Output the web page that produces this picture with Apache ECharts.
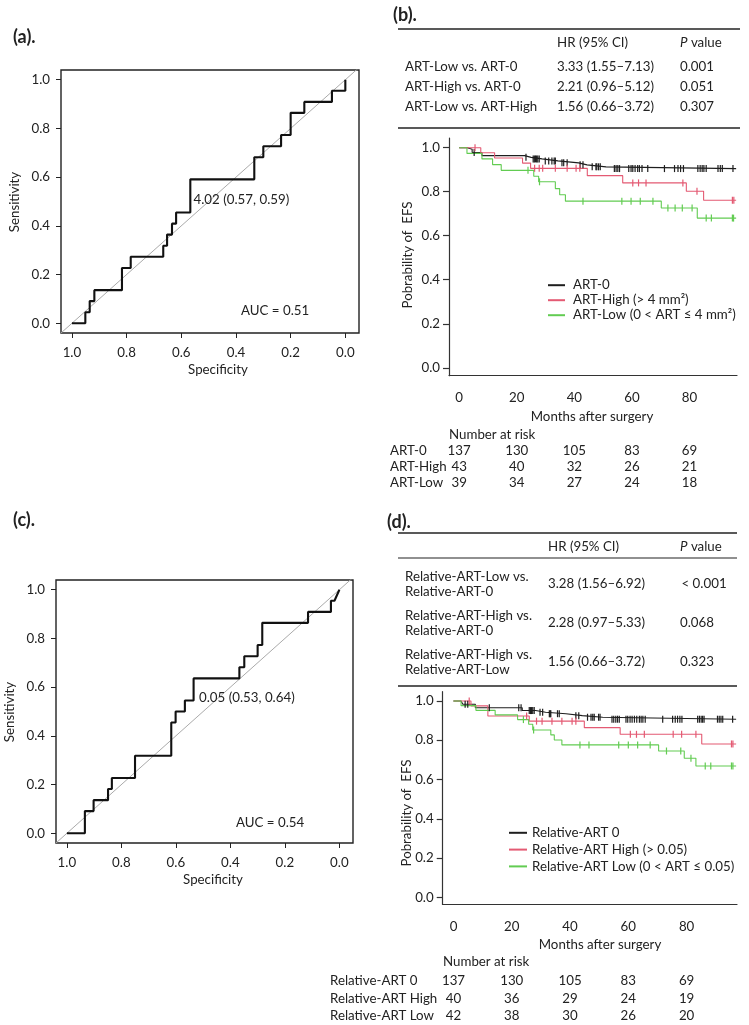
<!DOCTYPE html>
<html><head><meta charset="utf-8">
<script src="https://cdn.jsdelivr.net/npm/echarts@6/dist/echarts.min.js"></script>
<style>html,body{margin:0;padding:0;background:#fff}#c{width:749px;height:1025px}</style>
</head><body><div id="c"></div>
<script>
// ---------- ROC data (specificity / sensitivity vertices) ----------
const rocA_spec = [1.0,0.951,0.951,0.935,0.935,0.918,0.918,0.817,0.817,0.785,0.785,0.666,0.666,0.652,0.652,0.634,0.634,0.619,0.619,0.567,0.567,0.333,0.333,0.300,0.300,0.235,0.235,0.200,0.200,0.150,0.150,0.049,0.049,0.0,0.0];
const rocA_sens = [0,0,0.045,0.045,0.091,0.091,0.136,0.136,0.227,0.227,0.273,0.273,0.318,0.318,0.364,0.364,0.409,0.409,0.455,0.455,0.591,0.591,0.682,0.682,0.727,0.727,0.773,0.773,0.864,0.864,0.909,0.909,0.955,0.955,1.0];
const rocC_spec = [1.0,0.934,0.934,0.902,0.902,0.849,0.849,0.835,0.835,0.750,0.750,0.617,0.617,0.601,0.601,0.567,0.567,0.535,0.535,0.367,0.367,0.349,0.349,0.300,0.300,0.283,0.283,0.115,0.115,0.031,0.031,0.018,0.0];
const rocC_sens = [0,0,0.091,0.091,0.136,0.136,0.182,0.182,0.227,0.227,0.318,0.318,0.455,0.455,0.5,0.5,0.545,0.545,0.636,0.636,0.682,0.682,0.727,0.727,0.773,0.773,0.864,0.864,0.909,0.909,0.955,0.955,1.0];
const rocCutThr = ['4.02', '0.05'];
const rocCutSpec = [0.57, 0.53];
const rocCutSens = [0.59, 0.64];
const rocAUC = ['0.51', '0.54'];
const rocTicks = [0, 0.2, 0.4, 0.6, 0.8, 1.0];

// ---------- KM data panel (b) ----------
const kmB0_t = [0,2.8,4.5,7.9,22.7,25.0,28.8,34.3,41.5,44.4,51.0,96.2];
const kmB0_s = [1.0,0.993,0.978,0.964,0.956,0.949,0.940,0.931,0.922,0.913,0.905,0.905];
const kmB0_c = [5.2,23.2,25.7,26.1,26.5,26.9,27.3,27.8,29.9,31.1,32.2,33.0,33.4,35.7,36.3,37.5,42.0,43.0,46.2,47.5,47.8,48.4,49.0,53.9,54.5,55.1,55.7,58.9,59.7,60.3,61.1,62.0,62.6,63.5,65.5,71.3,74.8,76.0,76.9,77.9,82.9,83.7,84.4,85.0,85.8,89.9,90.7,91.4,95.1];
const kmB1_t = [0,7.5,12.3,22.0,24.8,44.5,56.8,78.9,84.9,96.2];
const kmB1_s = [1.0,0.977,0.953,0.930,0.906,0.873,0.840,0.802,0.761,0.761];
const kmB1_c = [5.5,26.2,27.8,29.0,33.4,37.5,40.6,41.9,60.3,62.3,64.9,77.7,82.6,94.9,95.4];
const kmB2_t = [0,2.7,7.9,11.6,14.6,25.9,27.6,33.4,34.9,36.9,70.2,82.7,96.2];
const kmB2_s = [1.0,0.974,0.949,0.923,0.897,0.870,0.845,0.814,0.786,0.757,0.726,0.680,0.680];
const kmB2_c = [23.9,27.9,43.0,56.5,59.7,62.9,67.3,72.5,75.0,77.5,80.9,85.8,87.6,94.9,95.3];

// ---------- KM data panel (d) ----------
const kmD0_t = [0,2.6,3.2,7.5,23.6,28.2,31.6,38.6,44.2,51.2,97.0];
const kmD0_s = [1.0,0.991,0.983,0.965,0.951,0.942,0.935,0.925,0.917,0.907,0.907];
const kmD0_c = [4.0,4.9,12.3,22.4,23.2,26.0,26.4,26.8,27.2,27.7,29.7,30.6,32.9,33.2,33.4,35.7,36.3,42.0,43.0,46.0,47.2,47.8,48.3,49.8,50.3,54.4,55.0,55.7,56.3,56.9,59.2,59.8,60.6,61.3,62.1,62.9,63.8,64.4,65.0,65.8,71.8,75.2,76.1,76.9,77.7,78.4,83.8,84.4,85.0,85.5,86.0,90.6,91.2,91.8,92.4,95.8];
const kmD1_t = [0,6.0,11.8,26.0,44.9,57.2,85.2,97.0];
const kmD1_s = [1.0,0.975,0.923,0.897,0.864,0.830,0.781,0.781];
const kmD1_c = [5.4,25.1,28.5,30.4,33.8,37.2,40.7,42.0,60.7,62.8,65.5,75.4,78.3,83.2,95.4,95.9];
const kmD2_t = [0,2.6,7.7,14.3,22.0,25.8,27.2,33.4,34.6,37.2,70.4,79.2,83.2,97.0];
const kmD2_s = [1.0,0.976,0.952,0.929,0.905,0.881,0.852,0.827,0.801,0.776,0.745,0.708,0.669,0.669];
const kmD2_c = [24.0,27.5,43.4,46.5,56.7,60.0,63.2,67.5,73.1,78.0,81.5,86.4,88.3,95.4,95.9];

const kmXTicks = [0, 20, 40, 60, 80];
const kmYTicks = [0, 0.2, 0.4, 0.6, 0.8, 1.0];
const namesB = ['ART-0', 'ART-High (> 4 mm²)', 'ART-Low (0 < ART ≤ 4 mm²)'];
const namesD = ['Relative-ART 0', 'Relative-ART High (> 0.05)', 'Relative-ART Low (0 < ART ≤ 0.05)'];

// ---------- risk tables ----------
const riskRowsB = ['ART-0', 'ART-High', 'ART-Low'];
const riskB = [[137,130,105,83,69],[43,40,32,26,21],[39,34,27,24,18]];
const riskRowsD = ['Relative-ART 0', 'Relative-ART High', 'Relative-ART Low'];
const riskD = [[137,130,105,83,69],[40,36,29,24,19],[42,38,30,26,20]];

// ---------- HR tables ----------
const tabB_rows = ['ART-Low vs. ART-0', 'ART-High vs. ART-0', 'ART-Low vs. ART-High'];
const tabB_hr = ['3.33 (1.55–7.13)', '2.21 (0.96–5.12)', '1.56 (0.66–3.72)'];
const tabB_p = ['0.001', '0.051', '0.307'];
const tabD_rows = [['Relative-ART-Low vs.', 'Relative-ART-0'], ['Relative-ART-High vs.', 'Relative-ART-0'], ['Relative-ART-High vs.', 'Relative-ART-Low']];
const tabD_hr = ['3.28 (1.56–6.92)', '2.28 (0.97–5.33)', '1.56 (0.66–3.72)'];
const tabD_p = ['< 0.001', '0.068', '0.323'];

// ======================================================================
const FONT = 'Lato, "Open Sans", sans-serif';
const FS = 13.3;
const TXT = '#222';
const COLS = ['#1e1e1e', '#e45a73', '#62cc52'];
const chart = echarts.init(document.getElementById('c'), null, {renderer: 'canvas'});

const zip = (a, b) => a.map((v, i) => [v, b[i]]);
const survAt = (ts, ss, t) => { let s = ss[0]; for (let i = 0; i < ts.length; i++) if (ts[i] <= t) s = ss[i]; return s; };
const fmt1 = v => v.toFixed(1);

const grids = [
  {left: 61, top: 70, width: 298, height: 263, show: true, borderColor: '#222', borderWidth: 1.4, backgroundColor: 'transparent'},
  {left: 449, top: 138, width: 288, height: 237.7},
  {left: 449, top: 443, width: 288, height: 48},
  {left: 56, top: 580, width: 297, height: 263, show: true, borderColor: '#222', borderWidth: 1.4, backgroundColor: 'transparent'},
  {left: 442.7, top: 691.7, width: 294.3, height: 212.7},
  {left: 442.7, top: 972, width: 294.3, height: 53}
];

const lblStyle = {fontFamily: FONT, fontSize: FS, color: TXT};
function rocX(gi, margin) {
  return {gridIndex: gi, type: 'value', min: -0.05, max: 1.04, inverse: true,
    axisLine: {show: false, onZero: false}, splitLine: {show: false},
    axisTick: {show: true, length: 5, customValues: rocTicks, lineStyle: {color: '#222', width: 1}},
    axisLabel: Object.assign({customValues: rocTicks, formatter: fmt1, margin: margin}, lblStyle)};
}
function rocY(gi, margin) {
  return {gridIndex: gi, type: 'value', min: -0.04, max: 1.04,
    axisLine: {show: false, onZero: false}, splitLine: {show: false},
    axisTick: {show: true, length: 5, customValues: rocTicks, lineStyle: {color: '#222', width: 1}},
    axisLabel: Object.assign({customValues: rocTicks, formatter: fmt1, margin: margin}, lblStyle)};
}
function kmX(gi, min, max) {
  return {gridIndex: gi, type: 'value', min: min, max: max,
    axisLine: {show: true, onZero: false, lineStyle: {color: '#333', width: 1.2}}, splitLine: {show: false},
    axisTick: {show: false},
    axisLabel: Object.assign({customValues: kmXTicks, margin: 16}, lblStyle)};
}
function kmY(gi, max) {
  return {gridIndex: gi, type: 'value', min: -0.036, max: max,
    axisLine: {show: true, onZero: false, lineStyle: {color: '#333', width: 1.2}}, splitLine: {show: false},
    axisTick: {show: true, length: 6, customValues: kmYTicks, lineStyle: {color: '#333', width: 1.2}},
    axisLabel: Object.assign({customValues: kmYTicks, formatter: fmt1, margin: 9, padding: [9, 0, 0, 0]}, lblStyle)};
}
function riskX(gi, min, max) {
  return {gridIndex: gi, type: 'value', min: min, max: max, show: false};
}
function riskY(gi, rows, margin) {
  return {gridIndex: gi, type: 'category', data: rows, inverse: true,
    axisLine: {show: false, onZero: false}, axisTick: {show: false}, splitLine: {show: false},
    axisLabel: Object.assign({align: 'left', margin: margin, interval: 0}, lblStyle)};
}

const xAxes = [rocX(0, 13), kmX(1, -3.54, 96.5), riskX(2, -3.54, 96.5), rocX(3, 13), kmX(4, -3.7, 97.3), riskX(5, -3.7, 97.3)];
const yAxes = [rocY(0, 11), kmY(1, 1.044), riskY(2, riskRowsB, 59), rocY(3, 11), kmY(4, 1.047), riskY(5, riskRowsD, 112.7)];

const series = [];
function addRoc(ai, spec, sens) {
  series.push({type: 'line', xAxisIndex: ai, yAxisIndex: ai, data: [[1.04, -0.04], [-0.05, 1.05]], symbol: 'none', silent: true,
    lineStyle: {color: '#aaaaaa', width: 1}, clip: true, z: 1});
  series.push({type: 'line', xAxisIndex: ai, yAxisIndex: ai, data: zip(spec, sens), symbol: 'none', silent: true,
    lineStyle: {color: '#111', width: 2.1}, z: 3});
}
addRoc(0, rocA_spec, rocA_sens);
addRoc(3, rocC_spec, rocC_sens);

function addKm(ai, name, ts, ss, cs, col) {
  series.push({type: 'line', name: name, xAxisIndex: ai, yAxisIndex: ai, data: zip(ts, ss), step: 'end', symbol: 'none', silent: true,
    lineStyle: {color: col, width: 1.1}, itemStyle: {color: col}, z: 3});
  series.push({type: 'scatter', name: name + '_c', xAxisIndex: ai, yAxisIndex: ai, data: cs.map(t => [t, survAt(ts, ss, t)]),
    symbol: 'rect', symbolSize: [1.2, 7], silent: true, itemStyle: {color: col, opacity: 1}, z: 4});
}
addKm(1, namesB[0], kmB0_t, kmB0_s, kmB0_c, COLS[0]);
addKm(1, namesB[1], kmB1_t, kmB1_s, kmB1_c, COLS[1]);
addKm(1, namesB[2], kmB2_t, kmB2_s, kmB2_c, COLS[2]);
addKm(4, namesD[0], kmD0_t, kmD0_s, kmD0_c, COLS[0]);
addKm(4, namesD[1], kmD1_t, kmD1_s, kmD1_c, COLS[1]);
addKm(4, namesD[2], kmD2_t, kmD2_s, kmD2_c, COLS[2]);

function addRisk(ai, rows, vals) {
  const data = [];
  rows.forEach((r, i) => kmXTicks.forEach((t, j) => data.push([t, r, vals[i][j]])));
  series.push({type: 'scatter', xAxisIndex: ai, yAxisIndex: ai, data: data, symbolSize: 0, silent: true,
    itemStyle: {color: '#000', opacity: 1},
    label: Object.assign({show: true, position: 'inside', textBorderWidth: 0, formatter: p => String(p.value[2])}, lblStyle)});
}
addRisk(2, riskRowsB, riskB);
addRisk(5, riskRowsD, riskD);

// ---------- graphic texts ----------
const G = [];
function txt(x, y, s, opt) {
  G.push(Object.assign({type: 'text', x: x, y: y, silent: true,
    style: Object.assign({text: s, fontFamily: FONT, fontSize: FS, fill: TXT, align: 'left', verticalAlign: 'middle'}, (opt && opt.style) || {})},
    (opt && opt.el) || {}));
}
function hline(x1, x2, y, w) {
  G.push({type: 'line', silent: true, shape: {x1: x1, y1: y, x2: x2, y2: y}, style: {stroke: '#222', lineWidth: w || 1.4}});
}
const bold = {style: {fontSize: 18, fontWeight: 'bold'}};
txt(13, 37, '(a).', bold);
txt(393, 15, '(b).', bold);
txt(13, 520, '(c).', bold);
txt(387, 522, '(d).', bold);

// ROC axis titles
const rot = (x, y, s) => txt(x, y, s, {style: {align: 'center'}, el: {rotation: Math.PI / 2}});
rot(15, 202, 'Sensitivity');
txt(218, 370, 'Specificity', {style: {align: 'center'}});
rot(10, 712, 'Sensitivity');
txt(213, 880, 'Specificity', {style: {align: 'center'}});
txt(241, 311, 'AUC = ' + rocAUC[0]);
txt(236, 823, 'AUC = ' + rocAUC[1]);

// KM axis titles
rot(408, 255, 'Pobrability of  EFS');
rot(406.7, 813, 'Pobrability of  EFS');
txt(592, 417, 'Months after surgery', {style: {align: 'center'}});
txt(600, 945, 'Months after surgery', {style: {align: 'center'}});
txt(449, 435, 'Number at risk');
txt(443, 962, 'Number at risk');

// HR table (b)
const pStyle = {style: {text: '{i|P} value', rich: {i: {fontStyle: 'italic', fontFamily: FONT, fontSize: FS}}}};
hline(398, 740, 29);
txt(557, 43, 'HR (95% CI)');
txt(680, 43, '', pStyle);
tabB_rows.forEach((r, i) => {
  const y = 67 + i * 20;
  txt(405, y, r); txt(557, y, tabB_hr[i]); txt(680, y, tabB_p[i]);
});
hline(398, 740, 128);

// HR table (d)
hline(398, 737, 533);
txt(548, 547, 'HR (95% CI)');
txt(680, 547, '', pStyle);
hline(398, 737, 558, 1.1);
tabD_rows.forEach((r, i) => {
  const y = 584 + i * 39;
  txt(405, y - 7, r[0]); txt(405, y + 8, r[1]);
  txt(548, y, tabD_hr[i]); txt(i === 0 ? 681.5 : 680, y, tabD_p[i]);
});
hline(398, 737, 686);

const legendCommon = {orient: 'vertical', itemHeight: 14, padding: 0, textStyle: {fontFamily: FONT, fontSize: FS, color: TXT},
  selectedMode: false, itemStyle: {opacity: 0}};
chart.setOption({
  animation: false,
  backgroundColor: '#fff',
  grid: grids,
  xAxis: xAxes,
  yAxis: yAxes,
  legend: [
    Object.assign({left: 547, top: 278.7, itemWidth: 17, itemGap: 2, data: namesB}, legendCommon,
      {textStyle: {fontFamily: FONT, fontSize: FS, color: TXT, padding: [0, 0, 0, 3]}}),
    Object.assign({left: 508, top: 826.3, itemWidth: 18, itemGap: 3.8, data: namesD}, legendCommon)
  ],
  series: series,
  graphic: G
});

// threshold annotations placed through the ROC scales
const cutTexts = [0, 1].map(k => {
  const p = chart.convertToPixel({gridIndex: k === 0 ? 0 : 3}, [rocCutSpec[k], rocCutSens[k]]);
  return {type: 'text', x: p[0] + 4, y: p[1] + 20, silent: true, z: 10,
    style: {text: rocCutThr[k] + ' (' + rocCutSpec[k].toFixed(2) + ', ' + rocCutSens[k].toFixed(2) + ')',
      fontFamily: FONT, fontSize: FS, fill: TXT, align: 'left', verticalAlign: 'middle'}};
});
chart.setOption({graphic: G.concat(cutTexts)});
</script></body></html>
